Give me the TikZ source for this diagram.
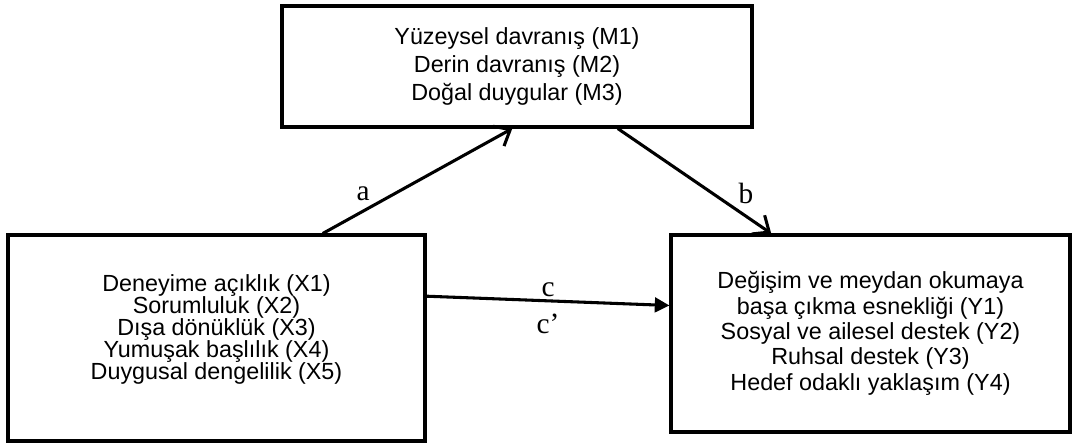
\documentclass[tikz,border=0pt]{standalone}
\usepackage{fontspec}
\setmainfont{Liberation Sans}
\newfontfamily\labelfont{Liberation Serif}
\usetikzlibrary{arrows.meta,calc,positioning}

\tikzset{
    varbox/.style={draw, line width=2.3pt, inner sep=0pt, align=center},
    patharrow/.style={line width=2.3pt, -{Straight Barb[length=10pt, width=17pt, line width=2.3pt]}},
    directarrow/.style={line width=2.3pt, -{Triangle[length=11pt, width=11pt]}},
    pathlabel/.style={font=\labelfont\fontsize{22pt}{22pt}\selectfont, inner sep=2pt}
}

\begin{document}
\begin{tikzpicture}[x=0.75pt, y=-0.75pt]
    \useasboundingbox (0,0) rectangle (1073,443);
    \node [varbox, minimum width=352.5pt, minimum height=90.75pt,
           font=\fontsize{17.5pt}{21pt}\selectfont] (M) at (517,66.5)
        {Yüzeysel davranış (M1)\\Derin davranış (M2)\\Doğal duygular (M3)};
    \node [varbox, minimum width=312.75pt, minimum height=154.5pt,
           font=\fontsize{17.5pt}{16.5pt}\selectfont] (X) at (216.5,338)
        {Deneyime açıklık (X1)\\Sorumluluk (X2)\\Dışa dönüklük (X3)\\Yumuşak başlılık (X4)\\Duygusal dengelilik (X5)\\[0pt]\mbox{}};
    \node [varbox, minimum width=299.25pt, minimum height=147.75pt,
           font=\fontsize{17.5pt}{19pt}\selectfont] (Y) at (870.5,333.5)
        {Değişim ve meydan okumaya\\başa çıkma esnekliği (Y1)\\Sosyal ve ailesel destek (Y2)\\Ruhsal destek (Y3)\\Hedef odaklı yaklaşım (Y4)};

    \draw[patharrow] ($(X.north west)!0.753!(X.north east)$) -- node[pathlabel, pos=0.27, above left] {a} ($(M.south west)!0.49!(M.south east)$);
    \draw[patharrow] ($(M.south west)!0.713!(M.south east)$) -- node[pathlabel, pos=0.76, above right] {b} ($(Y.north west)!0.253!(Y.north east)$);
    \draw[directarrow] ($(X.north east)!0.30!(X.south east)$) -- node[pathlabel, above] {c} node[pathlabel, below=7pt] {c’} ($(Y.north west)!0.36!(Y.south west)$);
\end{tikzpicture}
\end{document}
